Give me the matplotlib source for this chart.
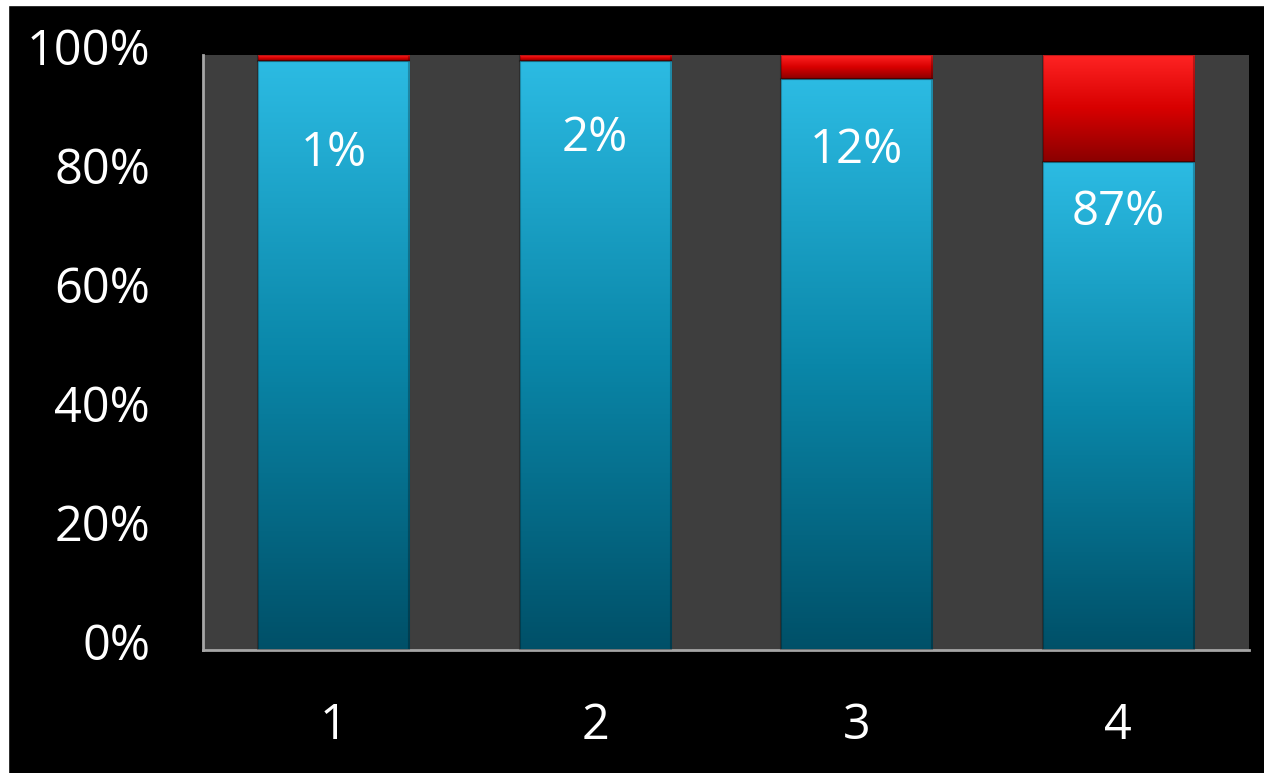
import matplotlib.pyplot as plt
import numpy as np
from matplotlib.colors import LinearSegmentedColormap
from matplotlib.patches import Rectangle
from matplotlib.ticker import PercentFormatter
from matplotlib.transforms import ScaledTranslation

# Data (shares of each stacked column)
categories = ['1', '2', '3', '4']
blue_share = [0.99, 0.99, 0.96, 0.82]
red_share = [0.01, 0.01, 0.04, 0.18]
bar_labels = ['1%', '2%', '12%', '87%']
label_y = [0.835, 0.86, 0.84, 0.735]

plt.rcParams['font.family'] = ['Open Sans', 'DejaVu Sans']

fig = plt.figure(figsize=(12.64, 7.73), dpi=100, facecolor='black')
# thin white strips at top and left edge of the original image
fig.patches.append(Rectangle((0, 1 - 5 / 773), 1, 5 / 773, transform=fig.transFigure,
                             color='white', zorder=-1))
fig.patches.append(Rectangle((0, 0), 8 / 1264, 1, transform=fig.transFigure,
                             color='white', zorder=-1))

ax = fig.add_axes([203 / 1264, 1 - 650 / 773, 1046 / 1264, 595 / 773])
ax.set_facecolor('#3e3e3e')

x = np.arange(len(categories))
width = 0.578

blue_cmap = LinearSegmentedColormap.from_list('blue', ['#005068', '#0a87a9', '#2cbbe3'])
red_cmap = LinearSegmentedColormap.from_list('red', ['#8a0000', '#d80000', '#ff2424'])
grad = np.linspace(0, 1, 256).reshape(-1, 1)

blue_bars = ax.bar(x, blue_share, width, color='none', edgecolor='none')
red_bars = ax.bar(x, red_share, width, bottom=blue_share, color='none', edgecolor='none')

# fill each bar with a vertical gradient clipped to the bar shape
for bars, cmap in [(blue_bars, blue_cmap), (red_bars, red_cmap)]:
    for b in bars:
        x0, y0 = b.get_x(), b.get_y()
        w, h = b.get_width(), b.get_height()
        im = ax.imshow(grad, cmap=cmap, origin='lower', aspect='auto',
                       extent=[x0, x0 + w, y0, y0 + h], zorder=2)
        im.set_clip_path(b)
        ax.add_patch(Rectangle((x0, y0), w, h, fill=False, edgecolor='#00000040',
                               linewidth=1.5, zorder=3))

for xi, lab, ly in zip(x, bar_labels, label_y):
    ax.text(xi, ly, lab, ha='center', va='center', color='white', fontsize=34, zorder=4)

ax.set_xlim(-0.5, len(categories) - 0.5)
ax.set_ylim(0, 1)
ax.set_xticks(x)
ax.set_xticklabels(categories)
ax.set_yticks(np.arange(0, 1.01, 0.2))
ax.yaxis.set_major_formatter(PercentFormatter(1.0, decimals=0))
ax.tick_params(axis='both', length=0, colors='white', labelsize=35)
ax.tick_params(axis='y', pad=38)
ax.tick_params(axis='x', pad=37)

# y labels sit a little above their ticks in the original
shift = ScaledTranslation(0, 6 / 72, fig.dpi_scale_trans)
for tick in ax.yaxis.get_major_ticks():
    tick.label1.set_transform(tick.label1.get_transform() + shift)

for side in ['top', 'right']:
    ax.spines[side].set_visible(False)
for side in ['left', 'bottom']:
    ax.spines[side].set_color('#a6a6a6')
    ax.spines[side].set_linewidth(2)

fig.savefig('out.png', dpi=100, facecolor=fig.get_facecolor())
